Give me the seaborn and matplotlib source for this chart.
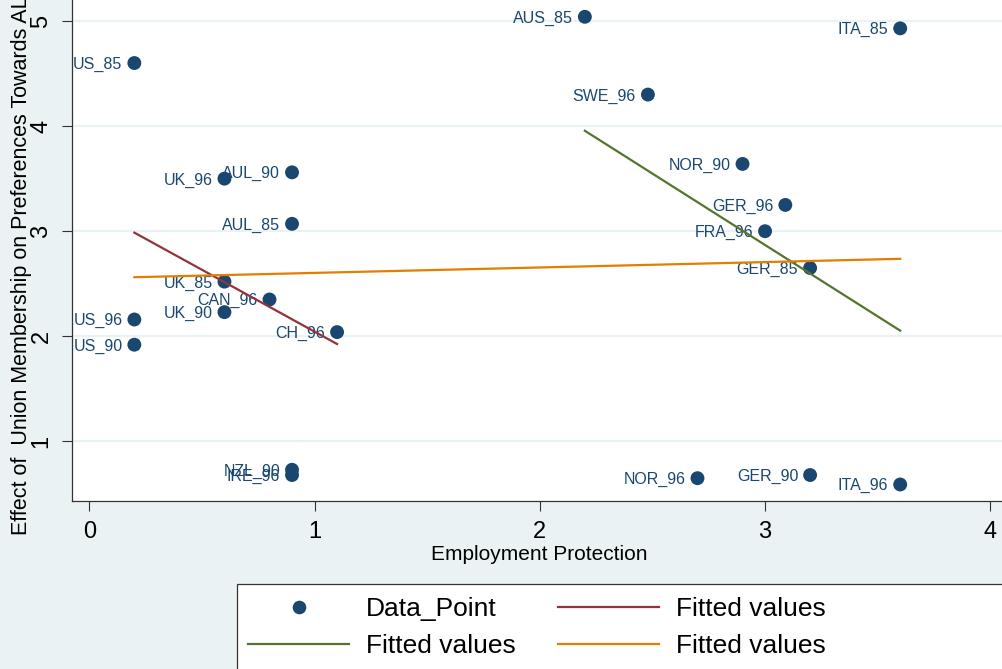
import numpy as np
import pandas as pd
import matplotlib
matplotlib.use("Agg")
import matplotlib.pyplot as plt
import seaborn as sns
from matplotlib.lines import Line2D
from matplotlib.patches import Rectangle

plt.rcParams['font.family'] = ['Liberation Sans', 'DejaVu Sans']

# ---- data ----
labels = ["US_85", "AUS_85", "ITA_85", "SWE_96", "NOR_90", "GER_96", "FRA_96", "GER_85",
          "UK_96", "AUL_90", "AUL_85", "UK_85", "CAN_96", "UK_90", "US_96", "US_90",
          "CH_96", "NZL_90", "IRE_96", "NOR_96", "GER_90", "ITA_96"]
emp_protection = [0.2, 2.2, 3.6, 2.48, 2.9, 3.09, 3.0, 3.2,
                  0.6, 0.9, 0.9, 0.6, 0.8, 0.6, 0.2, 0.2,
                  1.1, 0.9, 0.9, 2.7, 3.2, 3.6]
effect = [4.60, 5.04, 4.93, 4.30, 3.64, 3.25, 3.00, 2.65,
          3.50, 3.56, 3.07, 2.52, 2.35, 2.23, 2.16, 1.92,
          2.04, 0.73, 0.68, 0.65, 0.68, 0.59]
x_ticks = [0, 1, 2, 3, 4]
y_ticks = [1, 2, 3, 4, 5]
legend_labels = ["Data_Point", "Fitted values", "Fitted values", "Fitted values"]

BG = "#EAF2F3"
NAVY = "#1A476F"
RED = "#90353B"
GREEN = "#55752F"
ORANGE = "#E37E00"

df = pd.DataFrame({"label": labels, "ep": emp_protection, "effect": effect})
low = df[df.ep <= 1.5]
high = df[df.ep > 1.5]

W, H = 1003, 669
fig = plt.figure(figsize=(W / 100, H / 100), dpi=100, facecolor=BG)
left_px, bottom_px = 72.3, 501
ax = fig.add_axes([left_px / W, 1 - bottom_px / H, (W - left_px) / W, bottom_px / H])
ax.set_facecolor("white")

for yv in y_ticks:
    ax.axhline(yv, color=BG, lw=1.6, zorder=0)

sns.scatterplot(data=df, x="ep", y="effect", color=NAVY, s=100, edgecolor="none",
                ax=ax, zorder=2, legend=False)
for lab, xv, yv in zip(labels, emp_protection, effect):
    ax.annotate(lab, (xv, yv), xytext=(-8.6, -1), textcoords="offset points",
                ha="right", va="center", fontsize=11.5, color=NAVY, zorder=2)

sns.regplot(data=low, x="ep", y="effect", scatter=False, ci=None, truncate=True,
            color=RED, line_kws={"lw": 1.6, "zorder": 3}, ax=ax)
sns.regplot(data=high, x="ep", y="effect", scatter=False, ci=None, truncate=True,
            color=GREEN, line_kws={"lw": 1.6, "zorder": 3}, ax=ax)
sns.regplot(data=df, x="ep", y="effect", scatter=False, ci=None, truncate=True,
            color=ORANGE, line_kws={"lw": 1.6, "zorder": 3}, ax=ax)

ax.set_xlim((left_px - 89.3) / 225.25, (W - 89.3) / 225.25)
ax.set_ylim((546.5 - bottom_px) / 105.1, 546.5 / 105.1)
ax.set_xticks(x_ticks)
ax.set_yticks(y_ticks)
ax.set_xticklabels([str(v) for v in x_ticks])
ax.set_yticklabels([str(v) for v in y_ticks], rotation=90, va="center")
ax.tick_params(axis="both", length=7.2, width=0.8, color="#333333", labelsize=17, pad=7)
ax.set_xlabel("")
ax.set_ylabel("")
for s in ["top", "right"]:
    ax.spines[s].set_visible(False)
for s in ["left", "bottom"]:
    ax.spines[s].set_color("#333333")
    ax.spines[s].set_linewidth(0.9)

fig.text(539.5 / W, 1 - 555 / H, "Employment Protection", ha="center", va="center", fontsize=15)
fig.text(22 / W, 1 - 535 / H, "Effect of  Union Membership on Preferences Towards ALMP",
         rotation=90, ha="center", va="bottom", fontsize=15.5)

# legend box
fig.patches.append(Rectangle((237 / W, -0.2), 1.0, (1 - 583.6 / H) + 0.2, transform=fig.transFigure,
                             facecolor="white", edgecolor="#333333", lw=0.9, zorder=0))
handles = [Line2D([], [], marker="o", ls="", color=NAVY, markersize=9.8, markeredgewidth=0),
           Line2D([], [], color=GREEN, lw=1.6),
           Line2D([], [], color=RED, lw=1.6),
           Line2D([], [], color=ORANGE, lw=1.6)]
fig.legend(handles, [legend_labels[0], legend_labels[2], legend_labels[1], legend_labels[3]],
           ncol=2, loc="upper left", bbox_to_anchor=(248 / W, 1 - 597 / H), frameon=False,
           fontsize=19, handlelength=3.83, handletextpad=0.64, columnspacing=1.6,
           labelspacing=0.49, borderpad=0, borderaxespad=0)

fig.savefig("out.png", dpi=100, facecolor=BG)
